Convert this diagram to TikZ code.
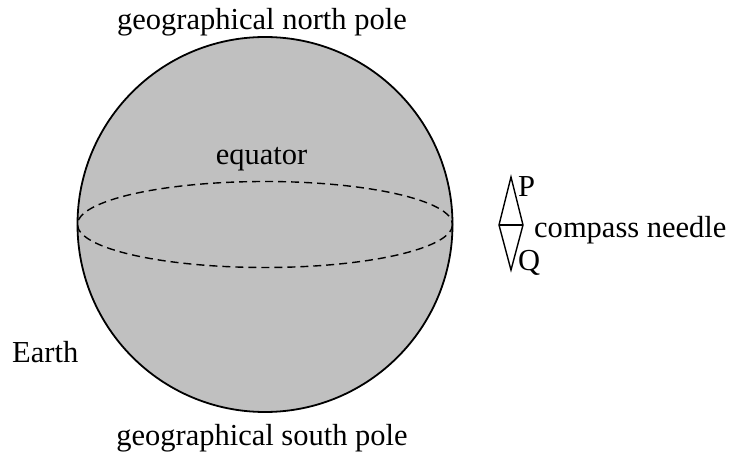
\documentclass[tikz,border=0pt]{standalone}
\usepackage{fontspec}
\setmainfont{Liberation Serif}
\begin{document}
\begin{tikzpicture}[x=1pt,y=-1pt,
  lbl/.style={inner sep=0pt,anchor=base,font=\fontsize{30.5}{36}\selectfont},
  earthline/.style={line width=1.8pt},
  eqline/.style={line width=1.4pt,dash pattern=on 8pt off 5pt},
  needleline/.style={line width=1.4pt,line join=miter}]
\useasboundingbox (0,0) rectangle (733,454);
\fill[fill={rgb,255:red,192;green,192;blue,192}] (265,224.5) circle (187.5);
\draw[eqline] (265,224.5) ellipse (187.5 and 43);
\draw[earthline] (265,224.5) circle (187.5);
\node[lbl] (north) at (262,30) {geographical north pole};
\node[lbl] (south) at (262,445) {geographical south pole};
\node[lbl] (equator) at (261.5,165) {equator};
\node[lbl,anchor=base west] (earth) at (12,362) {Earth};
\coordinate (ntop) at (511,177);
\coordinate (nleft) at (499,225);
\coordinate (nright) at (523,225);
\coordinate (nbot) at (511,270);
\draw[needleline] (ntop) -- (nright) -- (nbot) -- (nleft) -- cycle;
\draw[needleline] (nleft) -- (nright);
\node[lbl,anchor=base west] (P) at (518,197) {P};
\node[lbl,anchor=base west] (Q) at (518,270) {Q};
\node[lbl,anchor=base west] (needle) at (534,238) {compass needle};
\end{tikzpicture}
\end{document}
